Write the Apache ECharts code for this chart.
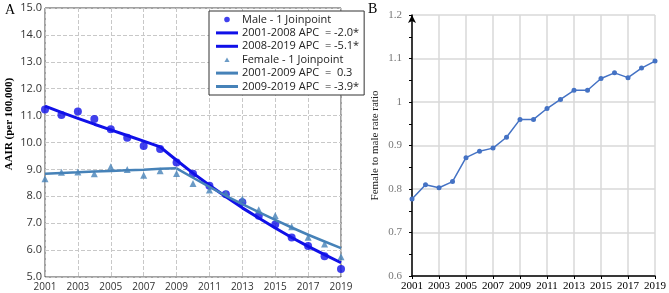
<!DOCTYPE html>
<html>
<head>
<meta charset="utf-8">
<script src="https://cdn.jsdelivr.net/npm/echarts@6/dist/echarts.min.js"></script>
<style>
  html, body { margin: 0; padding: 0; background: #fff; }
  #main { width: 669px; height: 293px; }
</style>
</head>
<body>
<div id="main"></div>
<script>
// panel A: AAIR by year
const years = [2001, 2002, 2003, 2004, 2005, 2006, 2007, 2008, 2009, 2010,
  2011, 2012, 2013, 2014, 2015, 2016, 2017, 2018, 2019];
const maleObs = [11.23, 11.02, 11.15, 10.87, 10.49, 10.18, 9.87, 9.76, 9.26, 8.84,
  8.39, 8.08, 7.78, 7.28, 6.95, 6.47, 6.15, 5.77, 5.30];
const femaleObs = [8.65, 8.89, 8.90, 8.84, 9.10, 9.00, 8.78, 8.95, 8.85, 8.48,
  8.23, 8.11, 7.90, 7.50, 7.29, 6.87, 6.48, 6.23, 5.75];
// joinpoint fitted segments
const maleSeg1Years = [2001, 2002, 2003, 2004, 2005, 2006, 2007, 2008];
const maleSeg1 = [11.35, 11.12, 10.90, 10.68, 10.47, 10.26, 10.05, 9.84];
const maleSeg2Years = [2008, 2009, 2010, 2011, 2012, 2013, 2014, 2015, 2016, 2017, 2018, 2019];
const maleSeg2 = [9.84, 9.34, 8.86, 8.41, 7.98, 7.57, 7.19, 6.82, 6.47, 6.14, 5.83, 5.53];
const femaleSeg1Years = [2001, 2002, 2003, 2004, 2005, 2006, 2007, 2008, 2009];
const femaleSeg1 = [8.84, 8.87, 8.89, 8.92, 8.94, 8.97, 8.99, 9.02, 9.04];
const femaleSeg2Years = [2009, 2010, 2011, 2012, 2013, 2014, 2015, 2016, 2017, 2018, 2019];
const femaleSeg2 = [9.04, 8.69, 8.35, 8.02, 7.71, 7.41, 7.12, 6.84, 6.57, 6.32, 6.07];
const legendNames = [
  'Male - 1 Joinpoint',
  '2001-2008 APC  = -2.0*',
  '2008-2019 APC  = -5.1*',
  'Female - 1 Joinpoint',
  '2001-2009 APC  =  0.3',
  '2009-2019 APC  = -3.9*',
];

// panel B: female to male ratio
const ratio = [0.777, 0.810, 0.803, 0.817, 0.872, 0.887, 0.894, 0.919, 0.960, 0.960,
  0.985, 1.006, 1.027, 1.027, 1.054, 1.067, 1.056, 1.078, 1.094];

const MALE = '#1010e8';
const FEMALE = '#4682b8';
const sans = '"Open Sans", "Noto Sans", sans-serif';
const serif = '"Liberation Serif", "DejaVu Serif", serif';

// legend icons, 22x7 boxes (the leading moves fix the bounding box)
const ICON_LINE = 'path://M0,0M22,7M0,2H22V5H0Z';
const ICON_DOT = 'path://M0,0M22,7M11,0.7A2.8,2.8,0,1,1,10.99,0.7Z';
const ICON_TRI = 'path://M0,0M22,7M11,1.2L13.6,5.8H8.4Z';

function pairs(xs, ys) {
  return xs.map((x, i) => [x, ys[i]]);
}

const chart = echarts.init(document.getElementById('main'));

const option = {
  animation: false,
  backgroundColor: '#fff',
  graphic: [
    { type: 'text', left: 5, top: 3, style: { text: 'A', font: '14px ' + serif, fill: '#000' } },
    { type: 'text', left: 368, top: 2, style: { text: 'B', font: '14px ' + serif, fill: '#000' } },
    {
      type: 'text', x: 9, y: 124, rotation: Math.PI / 2,
      style: {
        text: 'AAIR (per 100,000)', font: 'bold 11px ' + serif, fill: '#000',
        align: 'center', verticalAlign: 'middle',
      },
    },
  ],
  legend: {
    orient: 'vertical',
    left: 209,
    top: 11,
    padding: [3, 5, 3, 7],
    itemGap: 2.4,
    itemWidth: 22,
    itemHeight: 7,
    borderColor: '#333',
    borderWidth: 1,
    backgroundColor: '#fff',
    textStyle: { fontFamily: sans, fontSize: 11, color: '#222', padding: [0, 0, 0, -1] },
    data: [
      { name: legendNames[0], icon: ICON_DOT },
      { name: legendNames[1], icon: ICON_LINE },
      { name: legendNames[2], icon: ICON_LINE },
      { name: legendNames[3], icon: ICON_TRI },
      { name: legendNames[4], icon: ICON_LINE },
      { name: legendNames[5], icon: ICON_LINE },
    ],
  },
  grid: [
    { left: 45, right: 328, top: 8, bottom: 16, show: true, borderColor: '#444', borderWidth: 1 },
    { left: 412, right: 10, top: 15, bottom: 17 },
  ],
  xAxis: [
    {
      gridIndex: 0,
      type: 'value',
      min: 2001,
      max: 2019,
      interval: 2,
      axisLine: { show: false },
      axisTick: { show: false },
      axisLabel: { fontFamily: sans, fontSize: 10, color: '#333', margin: 5, formatter: (v) => String(v) },
      splitLine: { lineStyle: { type: 'dashed', color: '#c8c8c8' } },
    },
    {
      gridIndex: 1,
      type: 'value',
      min: 2001,
      max: 2019,
      interval: 2,
      axisLine: { lineStyle: { color: '#000', width: 1.5 } },
      axisTick: { length: 3, lineStyle: { color: '#000' } },
      axisLabel: { fontFamily: serif, fontSize: 11, color: '#000', margin: 5, formatter: (v) => String(v) },
      splitLine: { lineStyle: { color: '#d9d9d9', width: 1.5 } },
    },
  ],
  yAxis: [
    {
      gridIndex: 0,
      type: 'value',
      min: 5,
      max: 15,
      interval: 1,
      axisLine: { show: false },
      axisTick: { show: false },
      axisLabel: {
        fontFamily: sans, fontSize: 11, color: '#333', margin: 3,
        formatter: (v) => v.toFixed(1),
      },
      splitLine: { lineStyle: { type: 'dashed', color: '#c8c8c8' } },
    },
    {
      gridIndex: 1,
      type: 'value',
      min: 0.6,
      max: 1.2,
      interval: 0.1,
      name: 'Female to male rate ratio',
      nameLocation: 'middle',
      nameGap: 31,
      nameTextStyle: { fontFamily: serif, fontSize: 11, color: '#222' },
      axisLine: {
        show: true,
        symbol: ['none', 'arrow'],
        symbolSize: [6, 8],
        lineStyle: { color: '#000', width: 1.5 },
      },
      axisTick: { show: true, length: 3, lineStyle: { color: '#000' } },
      minorTick: { show: true, splitNumber: 2, length: 3, lineStyle: { color: '#000' } },
      axisLabel: {
        fontFamily: serif, fontSize: 11, color: '#777', margin: 10,
        formatter: (v) => String(Math.round(v * 10) / 10),
      },
      splitLine: { lineStyle: { color: '#d9d9d9', width: 1.5 } },
    },
  ],
  series: [
    {
      name: legendNames[0],
      type: 'scatter',
      xAxisIndex: 0,
      yAxisIndex: 0,
      symbol: 'circle',
      symbolSize: 8,
      itemStyle: { color: MALE },
      data: pairs(years, maleObs),
      z: 3,
    },
    {
      name: legendNames[1],
      type: 'line',
      xAxisIndex: 0,
      yAxisIndex: 0,
      symbol: 'none',
      itemStyle: { color: MALE },
      lineStyle: { color: MALE, width: 3 },
      data: pairs(maleSeg1Years, maleSeg1),
      z: 4,
    },
    {
      name: legendNames[2],
      type: 'line',
      xAxisIndex: 0,
      yAxisIndex: 0,
      symbol: 'none',
      itemStyle: { color: MALE },
      lineStyle: { color: MALE, width: 3 },
      data: pairs(maleSeg2Years, maleSeg2),
      z: 4,
    },
    {
      name: legendNames[3],
      type: 'scatter',
      xAxisIndex: 0,
      yAxisIndex: 0,
      symbol: 'triangle',
      symbolSize: 7,
      itemStyle: { color: FEMALE },
      data: pairs(years, femaleObs),
      z: 3,
    },
    {
      name: legendNames[4],
      type: 'line',
      xAxisIndex: 0,
      yAxisIndex: 0,
      symbol: 'none',
      itemStyle: { color: FEMALE },
      lineStyle: { color: FEMALE, width: 2.5 },
      data: pairs(femaleSeg1Years, femaleSeg1),
      z: 4,
    },
    {
      name: legendNames[5],
      type: 'line',
      xAxisIndex: 0,
      yAxisIndex: 0,
      symbol: 'none',
      itemStyle: { color: FEMALE },
      lineStyle: { color: FEMALE, width: 2.5 },
      data: pairs(femaleSeg2Years, femaleSeg2),
      z: 4,
    },
    {
      name: 'ratio',
      type: 'line',
      xAxisIndex: 1,
      yAxisIndex: 1,
      symbol: 'circle',
      symbolSize: 5,
      itemStyle: { color: '#4472c4' },
      lineStyle: { color: '#4472c4', width: 1.5 },
      data: pairs(years, ratio),
    },
  ],
};

chart.setOption(option);
</script>
</body>
</html>
